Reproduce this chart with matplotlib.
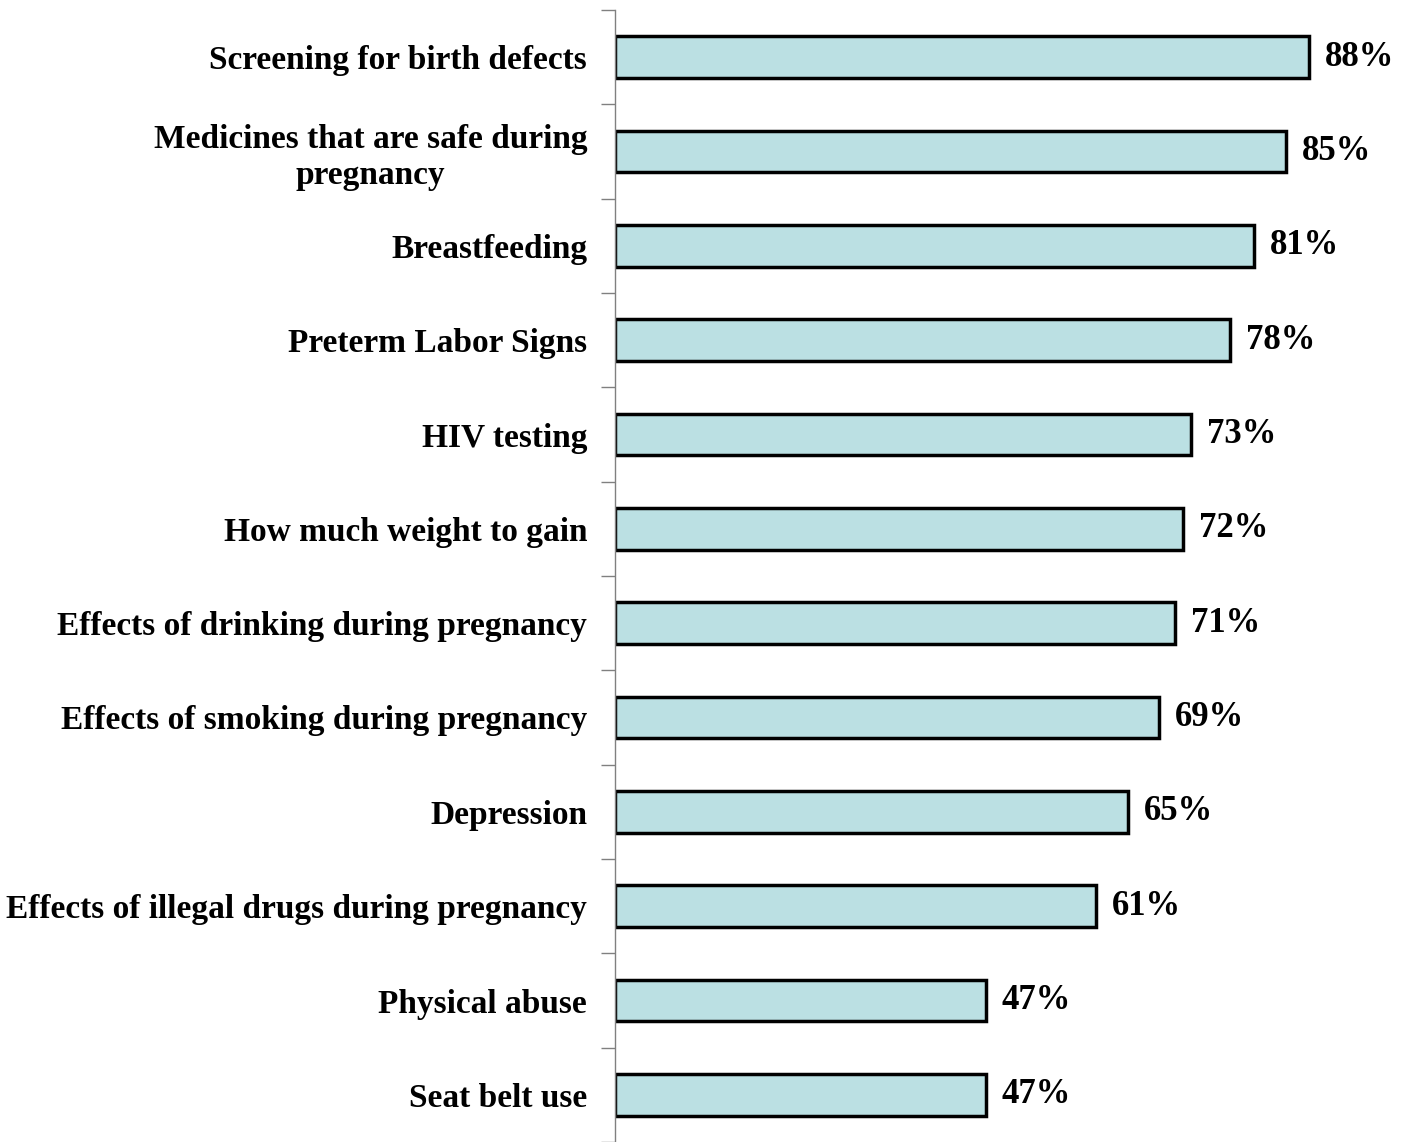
import matplotlib.pyplot as plt
import numpy as np

# Data
topics = ['Screening for birth defects',
          'Medicines that are safe during\npregnancy',
          'Breastfeeding',
          'Preterm Labor Signs',
          'HIV testing',
          'How much weight to gain',
          'Effects of drinking during pregnancy',
          'Effects of smoking during pregnancy',
          'Depression',
          'Effects of illegal drugs during pregnancy',
          'Physical abuse',
          'Seat belt use']
pct = [88, 85, 81, 78, 73, 72, 71, 69, 65, 61, 47, 47]

plt.rcParams['font.family'] = ['Liberation Serif', 'DejaVu Serif']
plt.rcParams['font.weight'] = 'bold'

fig = plt.figure(figsize=(14.07, 11.42), dpi=100)
ax = fig.add_axes([615/1407, 0, 789/1407, 1 - 10/1142])

y = np.arange(len(topics))
ax.barh(y, pct, height=0.44, color='#bbe0e3', edgecolor='black', linewidth=2.5)

for yi, v in zip(y, pct):
    ax.text(v + 2.0, yi, f'{v}%', va='center', ha='left', fontsize=25, fontweight='bold')

ax.set_xlim(0, 100)
ax.set_ylim(len(topics) - 0.5, -0.5)

ax.set_yticks(y)
ax.set_yticklabels(topics, fontsize=24, fontweight='bold', ha='right', ma='center')
ax.tick_params(axis='y', which='major', length=0, pad=20)
ax.set_yticks(np.arange(-0.5, len(topics)), minor=True)
ax.tick_params(axis='y', which='minor', length=10, width=1, color='#808080')
ax.set_xticks([])

for s in ['top', 'right', 'bottom']:
    ax.spines[s].set_visible(False)
ax.spines['left'].set_color('#808080')
ax.spines['left'].set_linewidth(1)

fig.savefig('out.png', dpi=100)
